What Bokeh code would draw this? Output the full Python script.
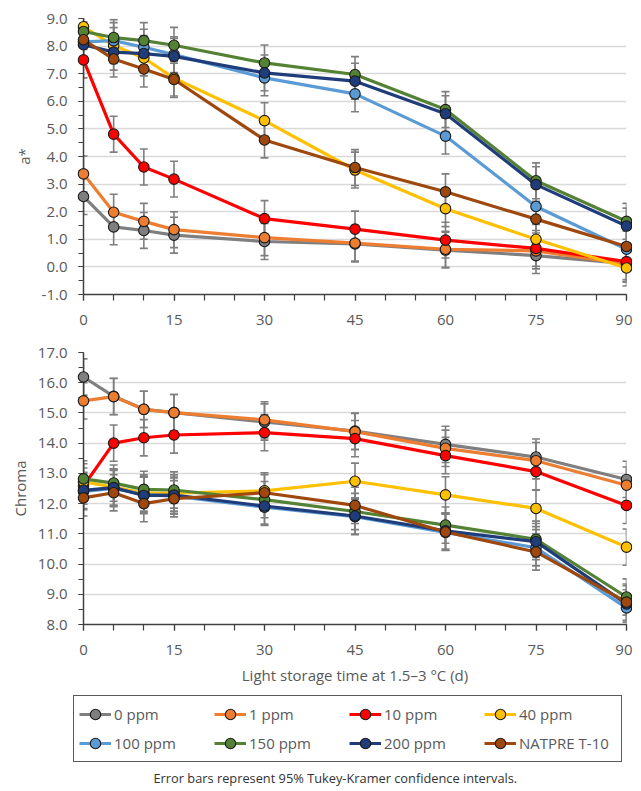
from bokeh.plotting import figure
from bokeh.models import Range1d, FixedTicker, NumeralTickFormatter, Legend, LegendItem, Title
from bokeh.layouts import column
from bokeh.embed import file_html
from bokeh.resources import INLINE

# ---------------- data ----------------
days = [0, 5, 10, 15, 30, 45, 60, 75, 90]
x_ticks = [0, 15, 30, 45, 60, 75, 90]
x_minor = [0, 5, 10, 15, 20, 25, 30, 35, 40, 45, 50, 55, 60, 65, 70, 75, 80, 85, 90]

labels = ["0 ppm", "1 ppm", "10 ppm", "40 ppm", "100 ppm", "150 ppm", "200 ppm", "NATPRE T-10"]
colors = ["#7f7f7f", "#ed7d31", "#ff0000", "#ffc000", "#5b9bd5", "#548235", "#1f3d7a", "#9e480e"]

a_0ppm = [2.55, 1.45, 1.32, 1.15, 0.92, 0.83, 0.61, 0.41, 0.12]
a_1ppm = [3.37, 1.98, 1.65, 1.35, 1.06, 0.86, 0.64, 0.58, 0.10]
a_10ppm = [7.50, 4.81, 3.62, 3.18, 1.75, 1.37, 0.97, 0.67, 0.19]
a_40ppm = [8.70, 8.02, 7.57, 6.84, 5.30, 3.51, 2.11, 1.00, -0.04]
a_100ppm = [8.15, 8.20, 7.96, 7.69, 6.85, 6.27, 4.74, 2.19, 0.64]
a_150ppm = [8.53, 8.31, 8.20, 8.03, 7.39, 6.97, 5.70, 3.12, 1.65]
a_200ppm = [8.05, 7.78, 7.73, 7.63, 7.03, 6.73, 5.55, 2.98, 1.48]
a_natpre = [8.23, 7.53, 7.17, 6.79, 4.60, 3.60, 2.72, 1.73, 0.74]
a_err = [0.65, 0.65, 0.65, 0.65, 0.65, 0.65, 0.65, 0.65, 0.65]

c_0ppm = [16.19, 15.55, 15.12, 15.01, 14.70, 14.40, 13.96, 13.54, 12.80]
c_1ppm = [15.40, 15.54, 15.12, 15.01, 14.77, 14.38, 13.83, 13.42, 12.61]
c_10ppm = [12.58, 14.00, 14.18, 14.27, 14.35, 14.15, 13.59, 13.06, 11.94]
c_40ppm = [12.72, 12.55, 12.35, 12.35, 12.42, 12.74, 12.29, 11.84, 10.56]
c_100ppm = [12.40, 12.50, 12.30, 12.25, 11.88, 11.57, 11.05, 10.54, 8.55]
c_150ppm = [12.82, 12.68, 12.47, 12.45, 12.13, 11.74, 11.29, 10.82, 8.91]
c_200ppm = [12.44, 12.53, 12.27, 12.28, 11.92, 11.59, 11.10, 10.74, 8.68]
c_natpre = [12.19, 12.36, 12.00, 12.16, 12.36, 11.94, 11.06, 10.40, 8.74]
c_err = [0.60, 0.60, 0.60, 0.60, 0.60, 0.60, 0.60, 0.60, 0.60]

a_ticks = [-1, 0, 1, 2, 3, 4, 5, 6, 7, 8, 9]
a_minor = [-1, -0.5, 0, 0.5, 1, 1.5, 2, 2.5, 3, 3.5, 4, 4.5, 5, 5.5, 6, 6.5, 7, 7.5, 8, 8.5, 9]
c_ticks = [8, 9, 10, 11, 12, 13, 14, 15, 16, 17]
c_minor = [8, 8.5, 9, 9.5, 10, 10.5, 11, 11.5, 12, 12.5, 13, 13.5, 14, 14.5, 15, 15.5, 16, 16.5, 17]

x_title = "Light storage time at 1.5\u20133 \u00b0C (d)"
note = "Error bars represent 95% Tukey-Kramer  confidence intervals."

a_series = [a_0ppm, a_1ppm, a_10ppm, a_40ppm, a_100ppm, a_150ppm, a_200ppm, a_natpre]
c_series = [c_0ppm, c_1ppm, c_10ppm, c_40ppm, c_100ppm, c_150ppm, c_200ppm, c_natpre]

FONT = "Open Sans"
TXT = "#595959"
AXC = "#404040"
ERRC = "#7f7f7f"
W = 632
BL = 83
BR = 6
LINE_W = 3.2
MK_SIZE = 10.5


def make_fig(series, err, ticks, minor, ylabel, height, btop, bbottom, with_x_title):
    p = figure(width=W, height=height,
               x_range=Range1d(days[0], days[-1]),
               y_range=Range1d(ticks[0], ticks[-1]),
               output_backend="svg", toolbar_location=None,
               min_border_left=BL, min_border_right=BR,
               min_border_top=btop, min_border_bottom=bbottom)
    p.outline_line_color = None
    p.xgrid.visible = False
    p.ygrid.ticker = FixedTicker(ticks=ticks)
    p.ygrid.grid_line_color = "#d9d9d9"
    p.ygrid.grid_line_width = 1.5

    for vals, col in zip(series, colors):
        lo = [v - e for v, e in zip(vals, err)]
        hi = [v + e for v, e in zip(vals, err)]
        p.line(days, vals, line_color=col, line_width=LINE_W, line_join="round")
        p.segment(x0=days, y0=lo, x1=days, y1=hi, line_color=ERRC, line_width=1.6)
        p.scatter(days, lo, marker="dash", size=8, line_color=ERRC, line_width=1.6)
        p.scatter(days, hi, marker="dash", size=8, line_color=ERRC, line_width=1.6)
    for vals, col in zip(series, colors):
        p.scatter(days, vals, marker="circle", size=MK_SIZE, fill_color=col,
                  line_color="#1a1a1a", line_width=1.1, level="overlay")

    xa = p.xaxis[0]
    xa.ticker = FixedTicker(ticks=x_ticks, minor_ticks=x_minor)
    xa.major_tick_out = 6
    xa.major_tick_in = 0
    xa.minor_tick_out = 6
    xa.minor_tick_in = 0
    xa.major_label_standoff = 14
    if with_x_title:
        xa.axis_label = x_title
        xa.axis_label_standoff = 7

    ya = p.yaxis[0]
    ya.ticker = FixedTicker(ticks=ticks, minor_ticks=minor)
    ya.formatter = NumeralTickFormatter(format="0.0")
    ya.major_tick_out = 5
    ya.major_tick_in = 0
    ya.minor_tick_out = 5
    ya.minor_tick_in = 0
    ya.major_label_standoff = 11
    ya.axis_label = ylabel
    ya.axis_label_standoff = 5

    for ax in (xa, ya):
        ax.axis_line_color = AXC
        ax.axis_line_width = 1.5
        ax.major_tick_line_color = AXC
        ax.minor_tick_line_color = AXC
        ax.major_tick_line_width = 1.2
        ax.minor_tick_line_width = 1.2
        ax.major_label_text_font = FONT
        ax.major_label_text_font_size = "15px"
        ax.major_label_text_color = TXT
        ax.axis_label_text_font = FONT
        ax.axis_label_text_font_size = "15px"
        ax.axis_label_text_font_style = "normal"
        ax.axis_label_text_color = TXT
    return p


p1 = make_fig(a_series, a_err, a_ticks, a_minor, "a*", 337, 18, 43, False)
p2 = make_fig(c_series, c_err, c_ticks, c_minor, "Chroma", 355, 15, 68, True)

# legend panel: renderers carry the series data but sit outside this panel's ranges
p3 = figure(width=W, height=98, x_range=Range1d(days[0] - 20, days[0] - 10), y_range=Range1d(0, 1),
            x_axis_type=None, y_axis_type=None,
            output_backend="svg", toolbar_location=None,
            min_border_left=0, min_border_right=0, min_border_top=0, min_border_bottom=24)
p3.grid.visible = False
p3.outline_line_color = None
try:
    p3.frame_align = False
except Exception:
    pass

items = []
for vals, col, lab in zip(a_series, colors, labels):
    ln = p3.line(days, vals, line_color=col, line_width=LINE_W)
    mk = p3.scatter(days, vals, marker="circle", size=MK_SIZE, fill_color=col,
                    line_color="#1a1a1a", line_width=1.1)
    items.append(LegendItem(label=lab, renderers=[ln, mk]))

legend = Legend(items=items, orientation="horizontal", ncols=4, location=(73, 1),
                glyph_width=32, glyph_height=26, label_height=26, label_width=97,
                label_standoff=3, spacing=3, padding=5, margin=0,
                label_text_font=FONT, label_text_font_size="15px", label_text_color=TXT,
                border_line_color="#595959", border_line_width=1.5, border_line_alpha=1.0,
                background_fill_color="white", background_fill_alpha=1.0)
p3.add_layout(legend, "center")

foot = Title(text=note, align="left", offset=153, standoff=7,
             text_font=FONT, text_font_size="12.8px", text_font_style="normal",
             text_color="#333333")
p3.add_layout(foot, "below")

layout = column(p1, p2, p3, spacing=0)
open("out.html", "w").write(file_html(layout, INLINE))
